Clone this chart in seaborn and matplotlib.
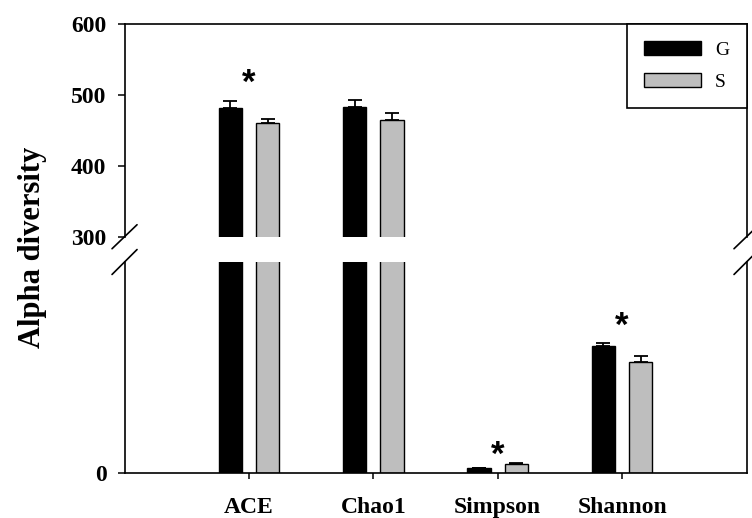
import numpy as np
import pandas as pd
import seaborn as sns
import matplotlib.pyplot as plt

# values
indices = ['ACE', 'Chao1', 'Simpson', 'Shannon']
groups = ['G', 'S']
g_mean = [481.5, 482.5, 0.24, 6.03]
g_err = [9.5, 10.0, 0.02, 0.16]
s_mean = [460.0, 464.0, 0.45, 5.27]
s_err = [6.5, 10.0, 0.03, 0.29]
# significance marks: (category, height, which panel)
stars = [('ACE', 516, 'top'), ('Simpson', 0.85, 'bottom'), ('Shannon', 6.95, 'bottom')]

df = pd.DataFrame({
	'index': indices * 2,
	'group': ['G'] * 4 + ['S'] * 4,
	'value': g_mean + s_mean,
})
errs = {'G': g_err, 'S': s_err}

sns.set_style('ticks')
plt.rcParams['font.family'] = ['Liberation Serif', 'DejaVu Serif']
plt.rcParams['text.color'] = 'black'
plt.rcParams['xtick.color'] = 'black'
plt.rcParams['ytick.color'] = 'black'

fig = plt.figure(figsize=(7.52, 5.18), dpi=100)
ax_top = fig.add_axes([0.1656, 0.543, 0.8271, 0.4107])
ax_bot = fig.add_axes([0.1656, 0.0863, 0.8271, 0.4079])

pal = {'G': 'black', 'S': '#bebebe'}
for ax in (ax_top, ax_bot):
	sns.barplot(data=df, x='index', y='value', hue='group', hue_order=groups,
				order=indices, palette=pal, width=0.6, gap=0.38, errorbar=None,
				edgecolor='black', linewidth=1.0, ax=ax, legend=(ax is ax_top))
	for cont, grp in zip(ax.containers, groups):
		xs = [p.get_x() + p.get_width() / 2 for p in cont.patches]
		ys = [p.get_height() for p in cont.patches]
		ax.errorbar(xs, ys, yerr=[np.zeros(len(ys)), errs[grp]], fmt='none',
					ecolor='black', elinewidth=1.3, capsize=4.7, capthick=1.3, zorder=1)
	ax.set_xlim(-1, 4)
	ax.set_xlabel('')
	ax.set_ylabel('')
	for s in ax.spines.values():
		s.set_linewidth(1.2)
		s.set_color('black')
	ax.tick_params(axis='y', direction='out', length=5, width=1.1, labelsize=17, pad=8,
				   colors='black')

ax_top.set_ylim(300, 600)
ax_top.set_yticks([300, 400, 500, 600])
ax_top.spines['bottom'].set_visible(False)
ax_top.tick_params(axis='x', bottom=False, labelbottom=False)
for lab in ax_top.get_yticklabels():
	lab.set_fontweight('bold')

ax_bot.set_ylim(0, 10)
ax_bot.set_yticks([0])
ax_bot.spines['top'].set_visible(False)
ax_bot.tick_params(axis='x', direction='out', length=4, width=1.1, labelsize=17, pad=13,
				   colors='black')
for lab in ax_bot.get_xticklabels() + ax_bot.get_yticklabels():
	lab.set_fontweight('bold')

# broken axis marks
kw = dict(color='black', lw=1.2, clip_on=False)
for ax, yc, dy in ((ax_top, 0, 0.0564), (ax_bot, 1, 0.059)):
	for xc in (0, 1):
		ax.plot([xc - 0.0201, xc + 0.0201], [yc - dy, yc + dy], transform=ax.transAxes, **kw)

# significance asterisks
for cat, h, panel in stars:
	ax = ax_top if panel == 'top' else ax_bot
	ax.text(indices.index(cat), h, '*', ha='center', va='center', fontsize=25,
			fontweight='bold', family='Liberation Sans', color='black')

old = ax_top.get_legend()
handles = old.legend_handles
labels = [t.get_text() for t in old.get_texts()]
leg = ax_top.legend(handles, labels, loc='upper right', borderaxespad=0, fancybox=False,
					handlelength=2.9, handleheight=0.72, handletextpad=0.72,
					labelspacing=0.7, borderpad=0.9, fontsize=14, framealpha=1)
leg.get_frame().set_edgecolor('black')
leg.get_frame().set_linewidth(1.2)

fig.text(33 / 752, 1 - 247 / 518, 'Alpha diversity', rotation=90, ha='center', va='center',
		 fontsize=22, fontweight='bold')

fig.savefig('out.png', dpi=100)
